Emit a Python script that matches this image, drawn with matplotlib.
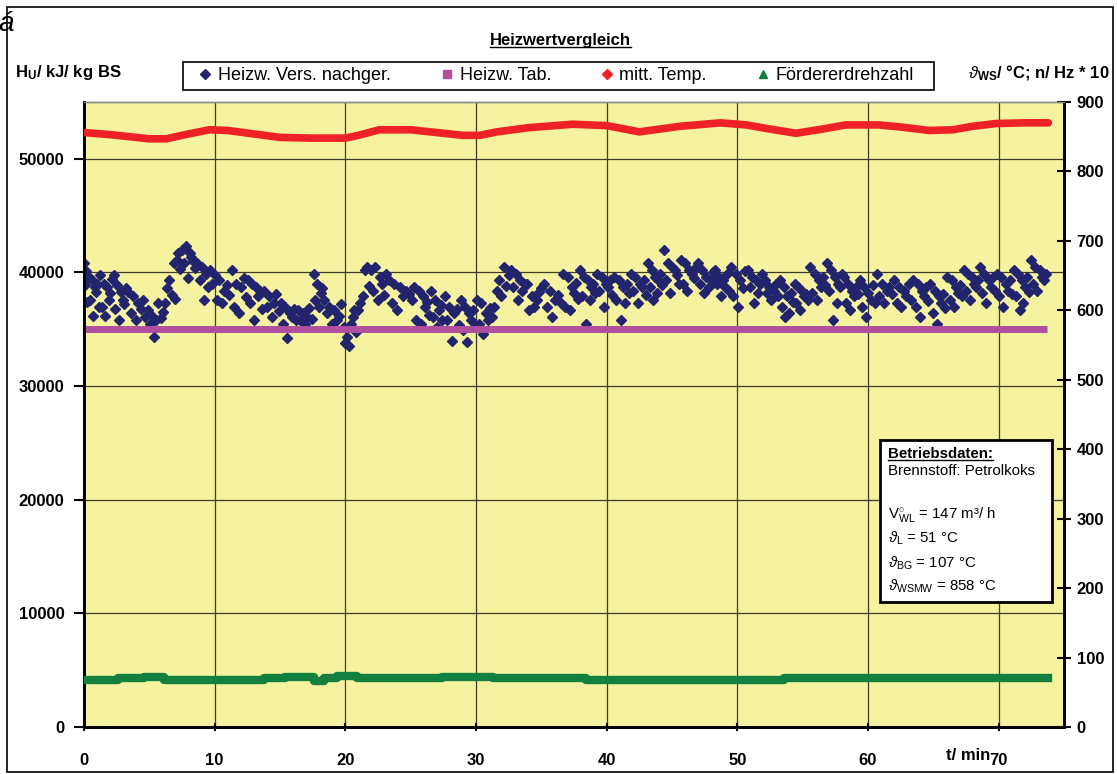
import numpy as np
import matplotlib
matplotlib.use('Agg')
import matplotlib.pyplot as plt
from matplotlib.lines import Line2D
from matplotlib.patches import Rectangle

plt.rcParams['font.family'] = ['Liberation Sans', 'DejaVu Sans']
plt.rcParams['mathtext.fontset'] = 'custom'
plt.rcParams['mathtext.rm'] = 'Liberation Sans'
plt.rcParams['mathtext.bf'] = 'Liberation Sans:bold'
plt.rcParams['mathtext.it'] = 'Liberation Sans:italic'
plt.rcParams['mathtext.sf'] = 'Liberation Sans'

# Heizwert nachgerechnet: Messpunkte je Zeitabschnitt (min, kJ/kg)
hw_t0 = [0.0, 0.3, 1.2, 2.2, 3.3, 4.8, 6.1, 6.8, 7.4, 8.6, 9.9, 11.2, 12.5, 13.7, 15.0,
         16.3, 17.5, 18.3, 19.8, 20.9, 21.9, 23.2, 25.2, 26.5, 27.5, 28.8, 30.0, 31.3,
         32.6, 33.8, 35.1, 36.6, 37.9, 39.2, 40.5, 41.8, 43.1, 44.3, 45.6, 46.9, 48.2,
         49.4, 50.7, 52.0, 53.2, 54.3, 55.5, 56.8, 58.1, 59.3, 60.6, 61.9, 63.4, 64.7,
         66.0, 67.3, 68.5, 69.8, 71.1, 72.4]
hw_t1 = hw_t0[1:] + [73.7]
hw_vals = [
    [40800, 38900, 40100, 37400, 39500],
    [39600, 37600, 39300, 36200, 38700, 38300, 39000, 37000],
    [39800, 37000, 39000, 36200, 38700, 37600, 38200, 39400],
    [39800, 36800, 38900, 35800, 38300, 37600, 37200, 38600],
    [38300, 36400, 37900, 35800, 37300, 36800, 37600, 36100],
    [36700, 35500, 36200, 34300, 35800, 37300, 36000, 36500],
    [37300, 38600, 39300, 38000],
    [40800, 37700, 41100, 41700, 40300],
    [42000, 40800, 42300, 39500, 41700, 41400, 41000, 40400],
    [40800, 39300, 40500, 37600, 39900, 38700, 40200, 39000],
    [39800, 37600, 39300, 37300, 38400, 38900, 38000],
    [40200, 37000, 39000, 36400, 38700, 39500, 37800],
    [39300, 37300, 39000, 35800, 38700, 37900, 38400, 36800],
    [38400, 37000, 37900, 36100, 37300, 38100, 36600],
    [37300, 35500, 37000, 34200, 36400, 36100, 36800, 35800],
    [36700, 35800, 36400, 35500, 36100, 36900, 35900],
    [39900, 37600, 39000, 37000, 38200, 38600],
    [37600, 36400, 37000, 35500, 36700, 35800, 36200, 37200],
    [35200, 33800, 34300, 33500, 35500, 36100, 36700, 34800],
    [36700, 37300, 37900, 40200, 40500, 38800],
    [40200, 38400, 40500, 37600, 39600, 39000, 38000, 39900],
    [39300, 37300, 39000, 36700, 38700, 37900, 38400, 38100, 37600],
    [38700, 35800, 38400, 35500, 37900, 37000, 37400, 36300],
    [38400, 36100, 37600, 35200, 36700, 37100, 35800],
    [37900, 35800, 37000, 34000, 36400, 36800, 35400],
    [37600, 34900, 37000, 33900, 36400, 35800, 36700, 35300],
    [37600, 35500, 37300, 34600, 36400, 35800, 36900, 36100],
    [37000, 38400, 39300, 37900, 40500, 38800, 39800],
    [40200, 38700, 39900, 37600, 39300, 38400, 39000],
    [39000, 36700, 37900, 37000, 37600, 38300, 38600],
    [39000, 37000, 38400, 36100, 37600, 38000, 37300],
    [39900, 37000, 39600, 36700, 38700, 38200, 39100, 37700],
    [40200, 37900, 39600, 35500, 39300, 37600, 38700, 39000, 38200],
    [39900, 38400, 39600, 37000, 39000, 38700, 39300, 38000],
    [39600, 37600, 39300, 35800, 38700, 37300, 39000, 38200],
    [39900, 38400, 39600, 37300, 39000, 38700, 39300, 38000],
    [40800, 38700, 40200, 37600, 39600, 38200, 39300, 39900, 38900],
    [42000, 39300, 40800, 38200, 40500, 40200, 39800, 39000],
    [41100, 39000, 40800, 38400, 40200, 39900, 39500, 40500],
    [40800, 39000, 40200, 38200, 39600, 38700, 39300, 40000],
    [40200, 39000, 39600, 37900, 39300, 38700, 39900, 38400],
    [40500, 37900, 39900, 37000, 39300, 38600, 40100],
    [40200, 38700, 39600, 37300, 39300, 38200, 39000, 39900],
    [39300, 38200, 38700, 37600, 38400, 39000, 37900],
    [39300, 37000, 38700, 36100, 37900, 36400, 38200, 37400],
    [39000, 37300, 38700, 36700, 38400, 37900, 38100, 37600],
    [40500, 38200, 39900, 37600, 39300, 38700, 39600, 38900],
    [40800, 38400, 40200, 35800, 39600, 37300, 39000, 38700, 39900],
    [39600, 37300, 39000, 36700, 38400, 37900, 38700, 38100],
    [39300, 37000, 38700, 36100, 38200, 37600, 38900, 37300],
    [39900, 37900, 39000, 37300, 38400, 38700, 38100],
    [39300, 37300, 38700, 37000, 38400, 37900, 39000, 37600],
    [39300, 37000, 39000, 36100, 38400, 37900, 38700, 37500],
    [39000, 36400, 38400, 35500, 37900, 37300, 38100, 36900],
    [39600, 37600, 39300, 37000, 38700, 38200, 38900, 37900],
    [40200, 38400, 39900, 37600, 39600, 39000, 38700, 39300],
    [40500, 38200, 39900, 37300, 39300, 38700, 39600, 38400],
    [39900, 37900, 39600, 37000, 39000, 38400, 39300, 38100],
    [40200, 37900, 39900, 36700, 39300, 37300, 38700, 39600, 38300],
    [41100, 39000, 40500, 38400, 40200, 39600, 39300, 39900],
]

# Heizwert Tabelle
tab_t = [0.0, 73.7]
tab_v = [35000, 35000]

# mittlere Temperatur (rechte Achse, °C)
temp_t = [0, 2, 4, 5, 6.3, 8, 9.6, 11, 13, 15, 17.5, 20, 21, 22.6, 25, 27, 29, 30.3,
          31.6, 34, 37.4, 40, 42.5, 45.6, 48.7, 50.7, 52.5, 54.5, 56.5, 58.3, 60.8,
          62.5, 64.7, 66.5, 68, 69.8, 72, 73.8]
temp_v = [856, 853, 849, 847, 847, 854, 860, 859, 854, 849, 848, 848, 852, 860, 860,
          856, 852, 852, 857, 863, 868, 866, 857, 865, 870, 867, 861, 855, 861, 867,
          867, 864, 859, 860, 865, 869, 870, 870]

# Förderer-Drehzahl (Hz * 10, rechte Achse)
n_t = [0, 2.6, 4.6, 6.1, 13.8, 15.4, 17.6, 18.4, 19.4, 20.9, 27.4, 31.3, 38.4, 53.6, 73.8]
n_v = [68, 70.5, 72.5, 68, 70, 72.5, 66.5, 71, 73, 70.5, 72.5, 70.5, 68, 71, 71]

labels = ['Heizw. Vers. nachger.', 'Heizw. Tab.', 'mitt. Temp.', 'Fördererdrehzahl']

c_blue = '#23246E'
c_mag = '#B24E9E'
c_red = '#EE2226'
c_green = '#13803F'

W, H = 1117, 774
fig = plt.figure(figsize=(W / 100, H / 100), dpi=100)


def fx(px):
    return px / W


def fy(py):
    return 1 - py / H


ax = fig.add_axes([fx(84), fy(727), fx(1064) - fx(84), fy(102) - fy(727)])
ax.set_facecolor('#F5F2A0')
ax.set_axisbelow(True)

hw_t, hw_v = [], []
for t0, t1, vals in zip(hw_t0, hw_t1, hw_vals):
    n = len(vals)
    ts = t0 + (np.arange(n) + 0.5) * (t1 - t0) / n
    hw_t.extend(ts)
    hw_v.extend(vals)

ax.plot(hw_t, hw_v, ls='none', marker='D', ms=5.6, color=c_blue, mec=c_blue, zorder=3)
ax.plot(tab_t, tab_v, color=c_mag, lw=5, solid_capstyle='butt', zorder=4)

ax.set_xlim(0, 75)
ax.set_ylim(0, 55000)
ax.set_xticks(range(0, 71, 10))
ax.set_yticks(range(0, 50001, 10000))
ax.grid(True, color='#3c3c28', lw=0.9)
ax.tick_params(axis='y', direction='out', length=7, width=1.5, pad=7, labelsize=12)
ax.tick_params(axis='x', direction='inout', length=6, width=1.5, pad=16, labelsize=12)
for lab in ax.get_xticklabels() + ax.get_yticklabels():
    lab.set_fontweight('bold')
for s in ['left', 'bottom', 'right']:
    ax.spines[s].set_linewidth(2)
ax.spines['top'].set_color('#8a8a8a')
ax.spines['top'].set_linewidth(1)

ax2 = ax.twinx()
ax2.plot(temp_t, temp_v, color=c_red, lw=5.5, solid_capstyle='round', zorder=3)
ax2.plot(n_t, n_v, color=c_green, lw=6, drawstyle='steps-post', zorder=3)
ax2.set_ylim(0, 900)
ax2.set_yticks(range(0, 901, 100))
ax2.tick_params(axis='y', direction='inout', length=10, width=1.5, pad=4, labelsize=12)
for lab in ax2.get_yticklabels():
    lab.set_fontweight('bold')
ax2.spines['right'].set_linewidth(2)
ax2.spines['left'].set_linewidth(2)
ax2.spines['bottom'].set_linewidth(2)
ax2.spines['top'].set_color('#8a8a8a')
ax2.spines['top'].set_linewidth(1)

# Texte
title = fig.text(fx(560), fy(40), 'Heizwertvergleich', ha='center', va='center',
                 fontsize=12, fontweight='bold')
fig.text(fx(15), fy(73), r'H$_{\mathbf{U}}$/ kJ/ kg BS', ha='left', va='center',
         fontsize=12, fontweight='bold')
fig.text(fx(1110), fy(73), r'$\vartheta_{\mathbf{WS}}$/ °C; n/ Hz * 10', ha='right',
         va='center', fontsize=12, fontweight='bold')
fig.text(fx(990), fy(756), 't/ min', ha='right', va='center', fontsize=12,
         fontweight='bold')
fig.text(fx(-2), fy(31), 'á', fontsize=20, style='italic', va='baseline')

# Legende
handles = [
    Line2D([], [], ls='none', marker='D', ms=5, color=c_blue),
    Line2D([], [], ls='none', marker='s', ms=5.5, color=c_mag),
    Line2D([], [], ls='none', marker='D', ms=5, color=c_red),
    Line2D([], [], ls='none', marker='^', ms=6, color=c_green),
]
fig.legend(handles, labels, loc='center', bbox_to_anchor=(fx(556), fy(76)), ncol=4,
           frameon=False, fontsize=13, handlelength=0.8, handletextpad=0.3,
           columnspacing=2.7)
fig.add_artist(Rectangle((fx(183), fy(90)), fx(934) - fx(183), fy(62) - fy(90),
                         transform=fig.transFigure, fill=False, ec='black', lw=1.2))

# Rahmen
fig.add_artist(Rectangle((fx(7), fy(772)), fx(1113) - fx(7), fy(7) - fy(772),
                         transform=fig.transFigure, fill=False, ec='black', lw=1.2))

# Betriebsdaten
fig.add_artist(Rectangle((fx(880), fy(602)), fx(1052) - fx(880), fy(440) - fy(602),
                         transform=fig.transFigure, fc='white', ec='black', lw=2,
                         zorder=5))
box_lines = [
    ('Betriebsdaten:', 458, 'bold'),
    ('Brennstoff: Petrolkoks', 475, 'normal'),
    (r'V$^{\circ}_{\mathrm{WL}}$ = 147 m³/ h', 518, 'normal'),
    (r'$\vartheta_{\mathrm{L}}$ = 51 °C', 543, 'normal'),
    (r'$\vartheta_{\mathrm{BG}}$ = 107 °C', 568, 'normal'),
    (r'$\vartheta_{\mathrm{WSMW}}$ = 858 °C', 591, 'normal'),
]
box_texts = []
for s, yb, w in box_lines:
    box_texts.append(fig.text(fx(888), fy(yb), s, ha='left', va='baseline',
                              fontsize=10.8, fontweight=w, zorder=6))

# Unterstreichungen
fig.canvas.draw()
r = fig.canvas.get_renderer()
for t in [title, box_texts[0]]:
    bb = t.get_window_extent(r)
    yline = (bb.y0 + 1) / H
    fig.add_artist(Line2D([bb.x0 / W, bb.x1 / W], [yline, yline],
                          transform=fig.transFigure, color='black', lw=1, zorder=7))

fig.savefig('out.png', dpi=100)
